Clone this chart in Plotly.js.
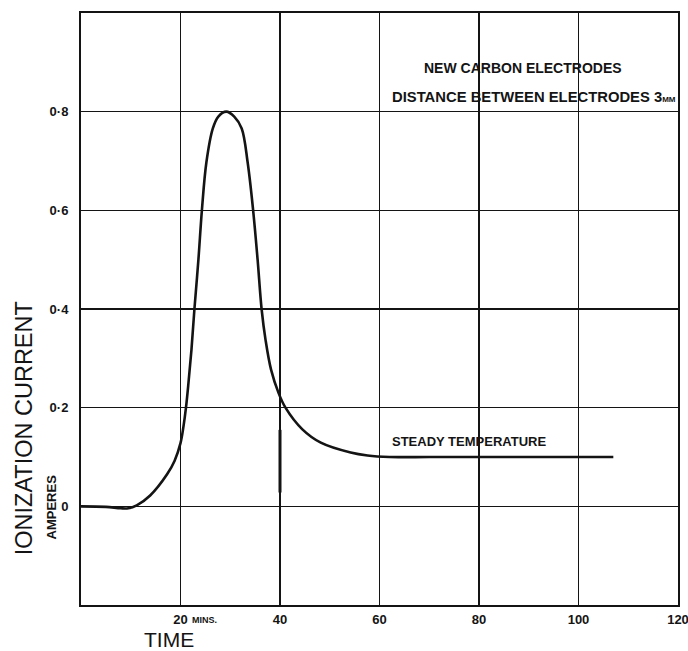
<!DOCTYPE html>
<html>
<head>
<meta charset="utf-8">
<script src="https://cdn.plot.ly/plotly-3.0.1.min.js"></script>
<style>html,body{margin:0;padding:0;background:#fff;}#chart{width:688px;height:651px;}</style>
</head>
<body>
<div id="chart"></div>
<script>
// Time (minutes) and ionization current (amperes)
var timeMin = [0, 5, 8, 9.5, 11.2, 13.9, 17.3, 18.8, 20, 20.6, 21.1, 21.6, 22.2, 22.8, 23.6, 24.3, 25.2, 26.5, 27.6, 29.2, 30.8, 32.3, 33.5, 34.6, 35.5, 36.3, 37.1, 38.2, 39.7, 41.1, 44.5, 48.2, 54.2, 57.6, 62, 70, 80, 90, 100, 107];
var currentAmp = [0, -0.001, -0.004, -0.004, 0.002, 0.022, 0.065, 0.092, 0.128, 0.162, 0.2, 0.25, 0.317, 0.4, 0.5, 0.6, 0.697, 0.766, 0.79, 0.8, 0.79, 0.766, 0.697, 0.6, 0.5, 0.4, 0.337, 0.277, 0.23, 0.2, 0.156, 0.129, 0.109, 0.103, 0.1, 0.1, 0.1, 0.1, 0.1, 0.1];
// small vertical mark at 40 min
var markTime = [40, 40];
var markAmp = [0.028, 0.155];

var xTickVals = [20, 40, 60, 80, 100, 120];
var xTickText = ['20', '40', '60', '80', '100', '120'];
var yTickVals = [0, 0.2, 0.4, 0.6, 0.8];
var yTickText = ['0', '0·2', '0·4', '0·6', '0·8'];

var ink = '#141414';
var traces = [
  {x: timeMin, y: currentAmp, mode: 'lines', type: 'scatter',
   line: {color: ink, width: 2.6, shape: 'spline', smoothing: 1}, hoverinfo: 'skip', showlegend: false},
  {x: markTime, y: markAmp, mode: 'lines', type: 'scatter',
   line: {color: ink, width: 3}, hoverinfo: 'skip', showlegend: false}
];

var fam = 'Liberation Sans, Arial, sans-serif';
var layout = {
  width: 688, height: 651,
  margin: {l: 81, r: 10, t: 13, b: 46},
  paper_bgcolor: '#ffffff', plot_bgcolor: '#ffffff',
  showlegend: false,
  xaxis: {
    range: [0, 120], tickvals: xTickVals, ticktext: xTickText,
    showgrid: true, gridcolor: ink, gridwidth: 1.5, zeroline: false,
    showline: true, mirror: true, linecolor: ink, linewidth: 2,
    ticks: '', ticklabelstandoff: 1, ticklabeloverflow: 'allow',
    tickfont: {family: fam, size: 13, color: ink, weight: 'bold'}
  },
  yaxis: {
    range: [-0.2, 1.0], tickvals: yTickVals, ticktext: yTickText,
    showgrid: true, gridcolor: ink, gridwidth: 1.5, zeroline: false,
    showline: true, mirror: true, linecolor: ink, linewidth: 2,
    ticks: '', ticklabelstandoff: 8,
    tickfont: {family: fam, size: 13, color: ink, weight: 'bold'}
  },
  annotations: [
    {text: 'NEW CARBON ELECTRODES', xref: 'paper', yref: 'paper', x: 0.74, y: 0.907,
     xanchor: 'center', yanchor: 'middle', showarrow: false,
     font: {family: fam, size: 14, color: ink, weight: 'bold'}},
    {text: 'DISTANCE BETWEEN ELECTRODES 3<span style="font-size:8px">MM</span>', xref: 'paper', yref: 'paper', x: 1.0, y: 0.858,
     xanchor: 'right', yanchor: 'middle', showarrow: false,
     font: {family: fam, size: 14.8, color: ink, weight: 'bold'}},
    {text: 'STEADY TEMPERATURE', xref: 'x', yref: 'y', x: 62.2, y: 0.131,
     xanchor: 'left', yanchor: 'middle', showarrow: false,
     font: {family: fam, size: 13, color: ink, weight: 'bold'}},
    {text: 'MINS.', xref: 'x', yref: 'paper', x: 20, y: 0, xshift: 9, yshift: -15,
     xanchor: 'left', yanchor: 'middle', showarrow: false,
     font: {family: fam, size: 9, color: ink, weight: 'bold'}},
    {text: 'IONIZATION CURRENT', xref: 'paper', yref: 'paper', x: -0.096, y: 0.298,
     xanchor: 'center', yanchor: 'middle', textangle: -90, showarrow: false,
     font: {family: fam, size: 23.5, color: ink}},
    {text: 'AMPERES', xref: 'paper', yref: 'paper', x: -0.05, y: 0.165,
     xanchor: 'center', yanchor: 'middle', textangle: -90, showarrow: false,
     font: {family: fam, size: 13, color: ink, weight: 'bold'}},
    {text: 'TIME', xref: 'paper', yref: 'paper', x: 0.148, y: -0.059,
     xanchor: 'center', yanchor: 'middle', showarrow: false,
     font: {family: fam, size: 21, color: ink}}
  ]
};

Plotly.newPlot('chart', traces, layout, {staticPlot: true, displayModeBar: false});
</script>
</body>
</html>
